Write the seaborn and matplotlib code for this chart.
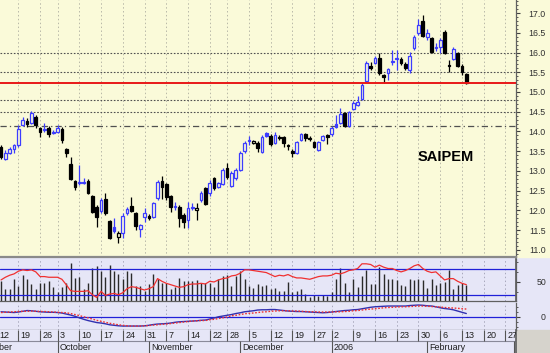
import numpy as np
import pandas as pd
import matplotlib
matplotlib.use("Agg")
import matplotlib.pyplot as plt
import seaborn as sns

# ---- data ----
holidays = ["2005-09-30", "2005-11-21", "2005-12-26"]
first_day = "2005-09-13"

opens = [13.61, 13.30, 13.46, 13.56, 13.66, 14.16, 14.27, 14.21, 14.37, 14.09,
         14.04, 14.09, 13.97, 13.99, 14.06, 13.56, 13.18, 12.75, 12.70, 12.70,
         12.75, 12.37, 12.09, 11.99, 12.29, 11.73, 11.58, 11.33, 11.43, 11.94,
         12.11, 11.94, 11.53, 11.84, 11.86, 11.84, 12.32, 12.75, 12.67, 12.37,
         12.09, 12.09, 11.89, 11.76, 12.06, 12.01, 12.27, 12.57, 12.44, 12.82,
         12.59, 12.67, 13.08, 12.62, 12.82, 13.03, 13.51, 13.76, 13.71, 13.71,
         13.48, 13.96, 13.89, 13.71, 13.86, 13.86, 13.66, 13.50, 13.46, 13.78,
         13.94, 13.84, 13.73, 13.53, 13.78, 13.92, 13.94, 14.19, 14.21, 14.47,
         14.14, 14.57, 14.67, 14.82, 15.28, 15.65, 15.73, 15.86, 15.43, 15.48,
         15.76, 15.84, 15.84, 15.71, 15.56, 16.11, 16.49, 16.80, 16.39, 16.37,
         16.11, 16.14, 16.52, 15.68, 15.84, 15.99, 15.66, 15.46]
highs = [13.66, 13.53, 13.61, 13.68, 14.16, 14.37, 14.34, 14.52, 14.42, 14.11,
         14.21, 14.14, 14.04, 14.16, 14.11, 13.58, 13.35, 12.77, 13.15, 12.82,
         12.80, 12.39, 12.14, 12.32, 12.44, 11.76, 11.81, 11.48, 11.94, 12.09,
         12.34, 11.96, 11.66, 12.06, 11.91, 12.22, 12.77, 12.87, 12.70, 12.39,
         12.22, 12.14, 11.94, 12.22, 12.19, 12.19, 12.49, 12.59, 12.77, 12.85,
         12.72, 13.08, 13.20, 13.00, 13.08, 13.51, 13.76, 13.89, 13.78, 13.76,
         13.91, 13.99, 13.94, 13.99, 13.91, 13.89, 13.68, 13.56, 13.76, 13.96,
         13.96, 13.89, 13.76, 13.76, 13.91, 13.94, 14.14, 14.42, 14.60, 14.49,
         14.52, 14.77, 14.90, 15.23, 15.78, 15.75, 15.91, 15.99, 15.46, 15.61,
         16.06, 16.06, 15.89, 15.76, 16.01, 16.44, 16.85, 16.95, 16.59, 16.39,
         16.24, 16.37, 16.57, 15.81, 16.14, 16.01, 15.71, 15.48]
lows = [13.31, 13.28, 13.43, 13.46, 13.61, 14.14, 14.11, 14.19, 14.09, 13.86,
        13.99, 13.86, 13.94, 13.96, 13.71, 13.35, 12.77, 12.52, 12.65, 12.67,
        12.42, 11.94, 11.58, 11.94, 11.89, 11.28, 11.43, 11.18, 11.30, 11.89,
        11.96, 11.51, 11.33, 11.71, 11.76, 11.81, 12.27, 12.29, 12.27, 11.96,
        12.01, 11.58, 11.56, 11.56, 12.01, 11.76, 12.22, 12.14, 12.37, 12.52,
        12.57, 12.65, 12.80, 12.59, 12.77, 13.00, 13.46, 13.66, 13.68, 13.48,
        13.46, 13.86, 13.63, 13.68, 13.78, 13.61, 13.53, 13.35, 13.43, 13.76,
        13.76, 13.76, 13.58, 13.51, 13.76, 13.68, 13.89, 14.09, 14.19, 14.11,
        14.11, 14.54, 14.65, 14.80, 15.25, 15.55, 15.71, 15.43, 15.23, 15.30,
        15.68, 15.56, 15.68, 15.56, 15.48, 16.06, 16.44, 16.39, 16.32, 15.99,
        16.04, 15.99, 15.96, 15.51, 15.81, 15.63, 15.43, 15.20]
closes = [13.36, 13.46, 13.56, 13.66, 14.06, 14.29, 14.19, 14.47, 14.16, 13.99,
          14.06, 13.94, 13.99, 14.09, 13.78, 13.46, 12.80, 12.59, 12.72, 12.73,
          12.44, 11.96, 11.84, 12.27, 11.94, 11.30, 11.48, 11.43, 11.86, 12.04,
          11.99, 11.61, 11.63, 11.94, 11.81, 12.19, 12.72, 12.59, 12.34, 12.09,
          12.11, 11.81, 11.71, 12.06, 12.09, 12.06, 12.44, 12.16, 12.70, 12.57,
          12.70, 13.03, 12.85, 12.95, 13.03, 13.46, 13.71, 13.78, 13.76, 13.58,
          13.86, 13.89, 13.68, 13.91, 13.84, 13.71, 13.63, 13.46, 13.73, 13.94,
          13.84, 13.81, 13.61, 13.73, 13.89, 13.87, 14.09, 14.11, 14.44, 14.14,
          14.49, 14.72, 14.75, 15.18, 15.73, 15.62, 15.86, 15.48, 15.38, 15.58,
          15.79, 15.86, 15.73, 15.61, 15.91, 16.39, 16.70, 16.42, 16.49, 16.01,
          16.14, 16.32, 15.99, 15.66, 16.09, 15.66, 15.51, 15.23]
volumes = [6.2, 3.7, 3.7, 6.9, 4.7, 8.0, 6.7, 5.2, 3.7, 5.7,
           5.5, 6.2, 4.5, 3.0, 4.4, 5.7, 11.5, 7.2, 7.5, 3.7,
           5.7, 10.0, 10.7, 9.2, 7.4, 11.0, 9.2, 8.2, 6.9, 9.2,
           8.7, 4.7, 4.7, 3.2, 5.2, 8.2, 6.9, 5.7, 5.5, 3.9,
           4.5, 7.2, 6.2, 6.2, 6.2, 6.5, 5.7, 5.5, 5.7, 4.5,
           6.9, 7.7, 7.9, 4.7, 7.7, 9.2, 6.7, 4.7, 4.2, 5.2,
           4.7, 4.9, 3.7, 4.2, 3.2, 3.2, 5.9, 2.9, 3.2, 3.7,
           2.2, 1.2, 1.9, 1.7, 1.9, 1.7, 3.0, 6.7, 10.2, 5.7,
           2.9, 6.7, 4.5, 7.7, 9.5, 5.2, 5.2, 10.5, 8.2, 6.9,
           6.9, 6.5, 5.0, 4.7, 6.7, 6.5, 6.9, 6.5, 4.0, 6.7,
           4.9, 5.7, 5.9, 9.5, 3.7, 4.9, 5.7, 5.0]
rsi = [53, 57, 60, 62, 66, 68, 67, 68, 65, 58,
       58, 57, 57, 57, 54, 46, 37, 36, 36, 36,
       37, 31, 27, 36, 30, 32, 33, 31, 34, 40,
       43, 42, 40, 38, 40, 43, 55, 51, 48, 46,
       44, 42, 43, 46, 47, 47, 48, 47, 51, 50,
       53, 55, 56, 59, 60, 63, 68, 68, 67, 66,
       65, 64, 61, 58, 60, 59, 61, 58, 56, 56,
       55, 54, 56, 58, 59, 59, 60, 63, 62, 64,
       67, 68, 70, 77, 77, 76, 72, 75, 72, 70,
       70, 67, 65, 67, 70, 74, 76, 70, 66, 64,
       65, 59, 53, 55, 55, 51, 48, 46]
macd = [0.20, 0.19, 0.18, 0.17, 0.19, 0.22, 0.25, 0.24, 0.22, 0.20,
        0.19, 0.18, 0.18, 0.17, 0.15, 0.11, 0.07, 0.02, -0.04, -0.10,
        -0.15, -0.19, -0.23, -0.25, -0.28, -0.32, -0.34, -0.36, -0.37, -0.37,
        -0.37, -0.37, -0.37, -0.36, -0.34, -0.31, -0.29, -0.28, -0.27, -0.25,
        -0.22, -0.20, -0.19, -0.18, -0.17, -0.16, -0.14, -0.13, -0.09, -0.05,
        0.00, 0.03, 0.06, 0.09, 0.13, 0.16, 0.20, 0.22, 0.24, 0.27,
        0.28, 0.28, 0.29, 0.29, 0.27, 0.25, 0.23, 0.22, 0.21, 0.21,
        0.20, 0.19, 0.18, 0.17, 0.16, 0.17, 0.19, 0.21, 0.23, 0.25,
        0.26, 0.28, 0.29, 0.32, 0.35, 0.38, 0.40, 0.41, 0.42, 0.43,
        0.43, 0.43, 0.43, 0.43, 0.45, 0.46, 0.47, 0.46, 0.44, 0.43,
        0.40, 0.36, 0.33, 0.31, 0.28, 0.23, 0.18, 0.13]
signal = [0.17, 0.18, 0.19, 0.20, 0.21, 0.22, 0.22, 0.23, 0.22, 0.21,
          0.21, 0.20, 0.19, 0.18, 0.17, 0.16, 0.13, 0.09, 0.05, 0.00,
          -0.04, -0.09, -0.14, -0.18, -0.22, -0.26, -0.29, -0.32, -0.34, -0.36,
          -0.37, -0.37, -0.37, -0.36, -0.35, -0.33, -0.32, -0.30, -0.29, -0.27,
          -0.25, -0.23, -0.21, -0.19, -0.17, -0.16, -0.15, -0.15, -0.12, -0.10,
          -0.07, -0.04, -0.01, 0.04, 0.06, 0.09, 0.12, 0.14, 0.15, 0.17,
          0.19, 0.20, 0.22, 0.23, 0.24, 0.24, 0.24, 0.23, 0.23, 0.22,
          0.21, 0.20, 0.20, 0.19, 0.19, 0.19, 0.19, 0.20, 0.20, 0.21,
          0.22, 0.24, 0.25, 0.27, 0.29, 0.31, 0.32, 0.34, 0.36, 0.37,
          0.38, 0.39, 0.40, 0.40, 0.41, 0.42, 0.43, 0.43, 0.42, 0.41,
          0.40, 0.39, 0.37, 0.36, 0.35, 0.34, 0.32, 0.31]

dotted_levels = [16.0, 15.5, 14.8, 14.5]
dashdot_level = 14.15
red_level = 15.23
title = "SAIPEM"

# ---- calendar / positions ----
cal = pd.bdate_range("2005-09-01", "2006-03-03")
cal = cal[~cal.isin(pd.to_datetime(holidays))]
pos0 = cal.get_loc(pd.Timestamp(first_day))
cal_pos = np.arange(len(cal)) - pos0

df = pd.DataFrame({"open": opens, "high": highs, "low": lows,
                   "close": closes, "vol": volumes, "rsi": rsi,
                   "macd": macd, "signal": signal})
df["x"] = np.arange(len(df))
df["date"] = cal[pos0:pos0 + len(df)]

cal_df = pd.DataFrame({"date": cal, "x": cal_pos})
iso = cal_df["date"].dt.isocalendar()
week_starts = cal_df.groupby([iso["year"], iso["week"]]).first()
month_starts = cal_df.groupby([cal_df["date"].dt.year, cal_df["date"].dt.month]).first()

YEL = "#FAFAD9"
LAV = "#E6E6F7"
BLUE = "#3C3CFF"
RED = "#E81818"
XLIM = (-0.23, 118.4)

sns.set_theme(style="white")
plt.rcParams["font.family"] = ["Liberation Sans", "DejaVu Sans"]

fig = plt.figure(figsize=(5.5, 3.53), dpi=100, facecolor=LAV)
# background strips behind the right-hand labels (drawn below the axes)
fig.patches.append(plt.Rectangle((0.938, 0.272), 0.062, 0.728, transform=fig.transFigure,
                                 color=YEL, zorder=-5))
fig.patches.append(plt.Rectangle((0.938, 0.0), 0.062, 0.065, transform=fig.transFigure,
                                 color="#D6D3CC", zorder=-5))


def right_axis(ax, pad=18.6):
    ax.yaxis.tick_right()
    ax.tick_params(axis="y", which="major", direction="out", length=3, width=0.8,
                   colors="#404040", labelsize=6.3, pad=pad, right=True, left=False)
    ax.tick_params(axis="y", which="minor", direction="out", length=1.6, width=0.6,
                   colors="#404040", right=True, left=False)
    for lbl in ax.get_yticklabels():
        lbl.set_horizontalalignment("right")
        lbl.set_color("#303030")


def frame(ax, face):
    ax.set_facecolor(face)
    ax.set_xlim(*XLIM)
    ax.set_xticks([])
    for s in ["left", "top"]:
        ax.spines[s].set_visible(False)
    for s in ["right", "bottom"]:
        ax.spines[s].set_color("#606060")
        ax.spines[s].set_linewidth(0.9)
    for t in week_starts["x"]:
        ax.axvline(t, color="#B8B8A8" if face == YEL else "#A8A8BC",
                   ls=(0, (1.5, 2.5)), lw=0.7, zorder=0.5)


# ---- main price panel ----
ax = fig.add_axes([0, 0.272, 0.938, 0.728])
frame(ax, YEL)
ax.spines["bottom"].set_linewidth(1.6)
ax.spines["bottom"].set_color("#8A8A8A")
ax.set_ylim(10.82, 17.33)

prev = df["close"].shift(1).fillna(df["open"])
col = np.where(df["close"] >= prev, BLUE, "#000000")
hollow = df["close"] > df["open"]
body_lo = np.minimum(df["open"], df["close"])
body_h = np.maximum(np.abs(df["close"] - df["open"]), 0.008)

ax.vlines(df["x"], df["low"], df["high"], colors=col, lw=0.9, zorder=2)
ax.bar(df["x"], body_h, bottom=body_lo, width=0.62,
       color=np.where(hollow, YEL, col), edgecolor=col, linewidth=0.9, zorder=3)

for lv in dotted_levels:
    ax.axhline(lv, color="#505050", ls=(0, (1.5, 1.5)), lw=0.8, zorder=1)
ax.axhline(dashdot_level, color="#505050", ls=(0, (5, 2.5, 1, 2.5)), lw=0.9, zorder=1)
ax.axhline(red_level, color=RED, lw=1.4, zorder=4)

ax.text(0.864, 0.389, title, transform=ax.transAxes, ha="center", va="center",
        fontsize=10.5, fontweight="bold", color="#000000")

ax.set_yticks(np.arange(11.0, 17.01, 0.5))
ax.set_yticks(np.arange(10.9, 17.31, 0.1), minor=True)
ax.set_yticklabels([f"{v:.1f}" for v in np.arange(11.0, 17.01, 0.5)])
right_axis(ax)

# ---- RSI + volume panel ----
ax1 = fig.add_axes([0, 0.146, 0.938, 0.120])
frame(ax1, LAV)
ax1.set_ylim(0, 12.8)
ax1.set_yticks([])
ax1.vlines(df["x"], 0, df["vol"], colors="#2A2A2A", lw=1.0, zorder=2)

ax1r = ax1.twinx()
ax1r.set_xlim(*XLIM)
ax1r.set_ylim(21, 84)
for s in ["left", "top", "bottom"]:
    ax1r.spines[s].set_visible(False)
ax1r.spines["right"].set_color("#606060")
ax1r.axhline(70, color="#2020D8", lw=0.9)
ax1r.axhline(30, color="#2020D8", lw=0.9)
sns.lineplot(x=df["x"], y=df["rsi"], ax=ax1r, color="#F03030", linewidth=0.9)
ax1r.set_xlabel("")
ax1r.set_ylabel("")
ax1r.set_yticks([50])
ax1r.set_yticks([35, 65, 80], minor=True)
ax1r.set_yticklabels(["50"])
right_axis(ax1r)

# ---- MACD panel ----
ax2 = fig.add_axes([0, 0.065, 0.938, 0.078])
frame(ax2, LAV)
ax2.set_ylim(-0.53, 0.57)
ax2.axhline(0, color="#2020D8", lw=0.9)
sns.lineplot(x=df["x"], y=df["macd"], ax=ax2, color="#3030B0", linewidth=1.0)
sns.lineplot(x=df["x"], y=df["signal"], ax=ax2, color="#F03030", linewidth=1.0,
             linestyle=(0, (1.2, 1.2)))
ax2.set_xlabel("")
ax2.set_ylabel("")
ax2.set_yticks([0])
ax2.set_yticks([-0.4, -0.2, 0.2, 0.4], minor=True)
ax2.set_yticklabels(["0"])
right_axis(ax2)

# ---- date axis ----
ax3 = fig.add_axes([0, 0, 0.938, 0.065])
ax3.set_facecolor(LAV)
ax3.set_xlim(*XLIM)
ax3.set_ylim(0, 1)
ax3.set_xticks([])
ax3.set_yticks([])
for s in ["left", "top", "bottom"]:
    ax3.spines[s].set_visible(False)
ax3.spines["right"].set_color("#606060")
ax3.axhline(0.52, color="#8A8A9A", lw=0.8)
for t, d in zip(week_starts["x"], week_starts["date"]):
    ax3.vlines(t, 0.52, 1, color="#555555", lw=0.8)
    ax3.text(t + 0.55, 0.76, str(d.day), fontsize=6.5, ha="left", va="center",
             color="#202020", clip_on=True)
for t, d in zip(month_starts["x"], month_starts["date"]):
    ax3.vlines(t, 0, 0.52, color="#555555", lw=0.8)
    name = str(d.year) if d.month == 1 else d.strftime("%B")
    ax3.text(t + 0.55, 0.25, name, fontsize=6.5, ha="left", va="center",
             color="#202020", clip_on=True)

fig.savefig("out.png", dpi=100, facecolor=fig.get_facecolor())
